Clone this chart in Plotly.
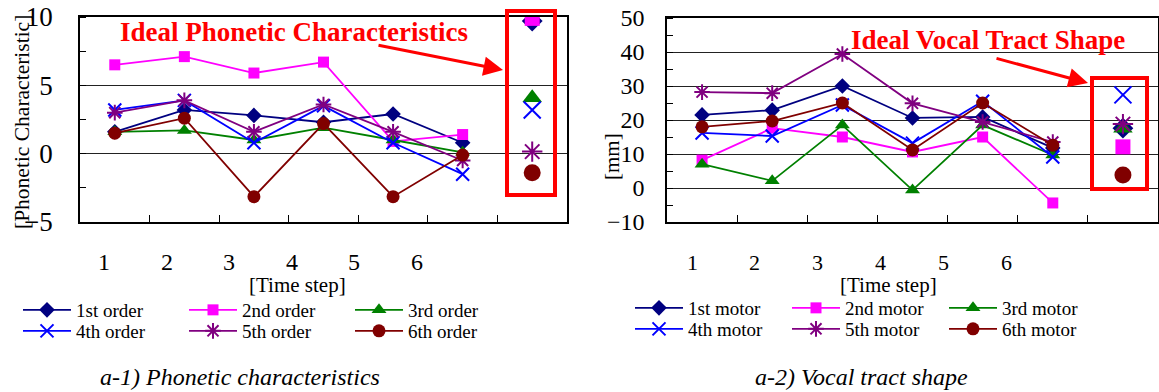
import plotly.graph_objects as go

# ---------------- data ----------------
steps = [1, 2, 3, 4, 5, 6]
ideal_x = 7
tick_labels = ["1", "2", "3", "4", "5", "6"]

phon_names = ["1st order", "2nd order", "3rd order", "4th order", "5th order", "6th order"]
phon_1 = [1.6, 3.2, 2.8, 2.3, 2.9, 0.8]
phon_2 = [6.5, 7.1, 5.9, 6.7, 0.9, 1.4]
phon_3 = [1.6, 1.7, 1.0, 1.9, 1.0, 0.1]
phon_4 = [3.2, 3.9, 0.8, 3.5, 0.8, -1.5]
phon_5 = [3.0, 3.9, 1.6, 3.6, 1.6, -0.5]
phon_6 = [1.5, 2.6, -3.15, 2.2, -3.15, -0.1]
phon_ideal = [9.7, 9.9, 4.1, 3.2, 0.15, -1.4]

voc_names = ["1st motor", "2nd motor", "3rd motor", "4th motor", "5th motor", "6th motor"]
voc_1 = [21.5, 22.9, 30.0, 20.6, 20.9, 11.8]
voc_2 = [8.2, 17.6, 15.0, 10.6, 15.0, -4.4]
voc_3 = [7.0, 2.1, 18.5, -0.6, 18.5, 9.7]
voc_4 = [16.2, 15.3, 24.4, 13.2, 25.5, 9.1]
voc_5 = [28.2, 27.9, 39.4, 24.9, 19.4, 13.5]
voc_6 = [18.0, 19.7, 25.0, 11.2, 25.0, 12.6]
voc_ideal = [17.6, 12.1, 17.6, 27.4, 18.8, 3.8]

colors = ["#000080", "#FF00FF", "#008000", "#0000FF", "#800080", "#800000"]
symbols = ["diamond", "square", "triangle-up", "x-thin", "asterisk-open", "circle"]
sizes = [12, 11, 13, 13, 13, 13]

FONT = "Liberation Serif, Times New Roman, serif"
W, H = 1159, 392

fig = go.Figure()


def marker(i, size):
    m = dict(symbol=symbols[i], size=size, color=colors[i])
    if symbols[i] in ("x-thin", "asterisk-open"):
        m["line"] = dict(color=colors[i], width=2)
    else:
        m["line"] = dict(width=0)
    return m


def add_chart(series, ideal, names, xa, ya, legends):
    for i, vals in enumerate(series):
        fig.add_trace(go.Scatter(
            x=steps, y=vals, mode="lines+markers", name=names[i],
            line=dict(color=colors[i], width=1.8),
            marker=marker(i, sizes[i]),
            xaxis=xa, yaxis=ya, legend=legends[i // 3],
        ))
    for i, v in enumerate(ideal):
        fig.add_trace(go.Scatter(
            x=[ideal_x], y=[v], mode="markers", showlegend=False,
            marker=marker(i, sizes[i] + 4),
            xaxis=xa, yaxis=ya,
        ))


add_chart([phon_1, phon_2, phon_3, phon_4, phon_5, phon_6], phon_ideal,
          phon_names, "x", "y", ["legend", "legend2"])
add_chart([voc_1, voc_2, voc_3, voc_4, voc_5, voc_6], voc_ideal,
          voc_names, "x2", "y2", ["legend3", "legend4"])


def px_x(p):
    return p / W


def px_y(p):
    return 1 - p / H


left_dom = [px_x(80), px_x(567)]
right_dom = [px_x(667), px_x(1158)]
ydom_l = [px_y(222), px_y(17)]
ydom_r = [px_y(222), px_y(18)]

xcommon = dict(range=[0.5, 7.5], tickmode="array", tickvals=[1.5, 2.5, 3.5, 4.5, 5.5, 6.5],
               ticks="inside", ticklen=7, tickcolor="black", tickwidth=1,
               showticklabels=False, showgrid=False, zeroline=False,
               showline=True, linecolor="black", linewidth=1.5, mirror=True)

fig.update_layout(
    width=W, height=H, margin=dict(l=0, r=0, t=0, b=0, pad=0, autoexpand=False),
    paper_bgcolor="white", plot_bgcolor="white",
    font=dict(family=FONT, color="black"),
    xaxis=dict(domain=left_dom, anchor="y", **xcommon),
    xaxis2=dict(domain=right_dom, anchor="y2", **xcommon),
    yaxis=dict(domain=ydom_l, anchor="x", range=[-5, 10], dtick=5, tick0=0,
               ticks="outside", ticklen=20, tickcolor="rgba(0,0,0,0)",
               showgrid=True, gridcolor="#222", gridwidth=1.2, zeroline=False,
               showline=True, linecolor="black", linewidth=1.5, mirror=True,
               tickfont=dict(size=27, family=FONT),
               minor=dict(dtick=2.5, tick0=0, ticks="inside", ticklen=6,
                          tickcolor="black", showgrid=False)),
    yaxis2=dict(domain=ydom_r, anchor="x2", range=[-10, 50], dtick=10, tick0=0,
                ticks="outside", ticklen=16, tickcolor="rgba(0,0,0,0)",
                showgrid=True, gridcolor="#222", gridwidth=1.2, zeroline=False,
                showline=True, linecolor="black", linewidth=1.5, mirror=True,
                tickfont=dict(size=24, family=FONT),
                minor=dict(dtick=5, tick0=0, ticks="inside", ticklen=6,
                           tickcolor="black", showgrid=False)),
)

leg_common = dict(orientation="h", xanchor="left", yanchor="middle",
                  entrywidthmode="pixels", bgcolor="rgba(0,0,0,0)",
                  font=dict(size=19, family=FONT), itemwidth=48,
                  itemclick=False)
fig.update_layout(
    legend=dict(x=px_x(18), y=px_y(310), entrywidth=103, **leg_common),
    legend2=dict(x=px_x(18), y=px_y(331), entrywidth=103, **leg_common),
    legend3=dict(x=px_x(630), y=px_y(308), entrywidth=94, **leg_common),
    legend4=dict(x=px_x(630), y=px_y(329), entrywidth=94, **leg_common),
)


def text_ann(text, xp, yp, size, color="black", angle=0):
    return dict(text=text, x=px_x(xp), y=px_y(yp), xref="paper", yref="paper",
                xanchor="center", yanchor="middle", showarrow=False, textangle=angle,
                font=dict(size=size, family=FONT, color=color))


ann = []
# x tick labels (original figure places them on their own spacing, left of the markers)
for lbl_px0, lbl_step, fsize in [(104, 62.6, 24), (692, 62.8, 22)]:
    for k, lbl in enumerate(tick_labels):
        ann.append(text_ann(lbl, lbl_px0 + k * lbl_step, 262, fsize))
ann.append(text_ann("<b>Ideal Phonetic Characteristics</b>", 294, 32, 27, "#FF0000"))
ann.append(text_ann("<b>Ideal Vocal Tract Shape</b>", 988, 40, 27, "#FF0000"))
# arrows
ann.append(dict(text="", x=px_x(503), y=px_y(70), xref="paper", yref="paper",
                ax=-126, ay=-25, axref="pixel", ayref="pixel", showarrow=True,
                arrowhead=2, arrowsize=1.3, arrowwidth=3, arrowcolor="#FF0000"))
ann.append(dict(text="", x=px_x(1088), y=px_y(83), xref="paper", yref="paper",
                ax=-93, ay=-25, axref="pixel", ayref="pixel", showarrow=True,
                arrowhead=2, arrowsize=1.3, arrowwidth=3, arrowcolor="#FF0000"))
# axis titles
ann.append(text_ann("[Time step]", 297, 285, 21))
ann.append(text_ann("[Time step]", 888, 285, 21))
ann.append(text_ann("[Phonetic Characteristic]", 22, 122, 21.5, angle=-90))
ann.append(text_ann("[mm]", 612, 157, 21, angle=-90))
# captions
ann.append(text_ann("<i>a-1) Phonetic characteristics</i>", 240, 377, 24))
ann.append(text_ann("<i>a-2) Vocal tract shape</i>", 861, 377, 24))
fig.update_layout(annotations=ann)

fig.update_layout(shapes=[
    dict(type="rect", xref="paper", yref="paper", x0=px_x(507), x1=px_x(555),
         y0=px_y(195), y1=px_y(11), line=dict(color="#FF0000", width=4)),
    dict(type="rect", xref="paper", yref="paper", x0=px_x(1092), x1=px_x(1147),
         y0=px_y(189), y1=px_y(78), line=dict(color="#FF0000", width=4)),
])

fig.write_html("out.html", config={"displayModeBar": False},
               post_script="document.body.style.margin='0px';document.body.style.padding='0px';")
